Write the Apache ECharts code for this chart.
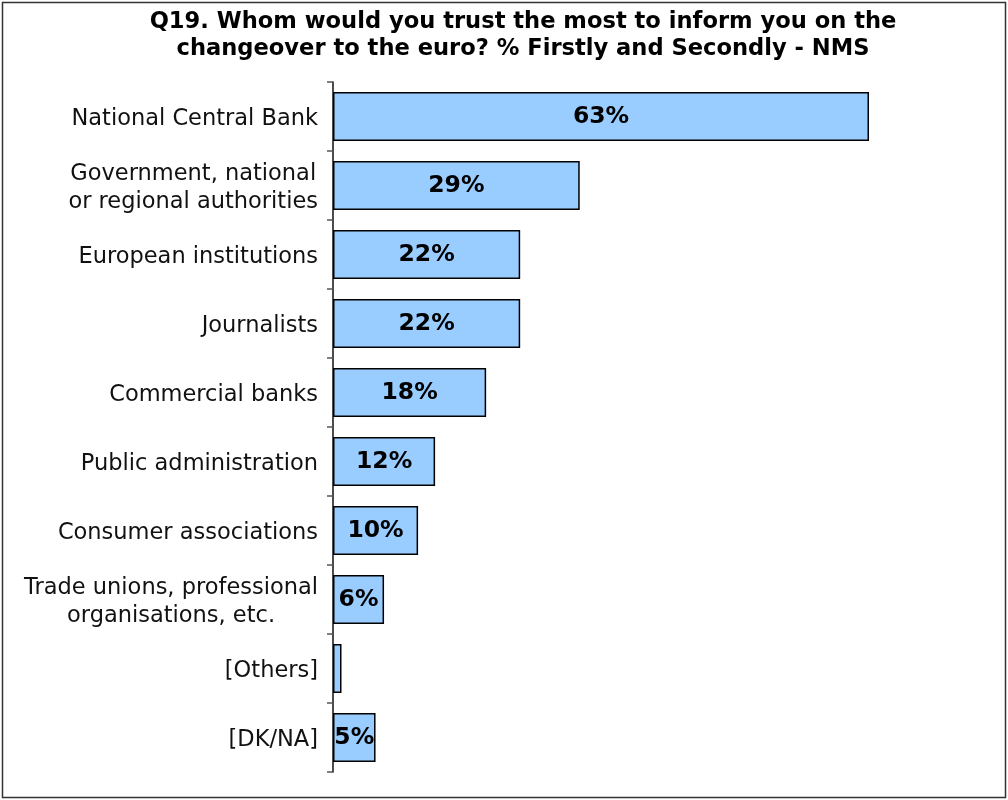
<!DOCTYPE html>
<html>
<head>
<meta charset="utf-8">
<style>
  html, body { margin: 0; padding: 0; background: #ffffff; }
  #chart { width: 1008px; height: 800px; }
</style>
<script src="https://cdn.jsdelivr.net/npm/echarts@6/dist/echarts.min.js"></script>
</head>
<body>
<div id="chart"></div>
<script>
// Survey answers, top to bottom
var categories = [
  'National Central Bank',
  'Government, national\nor regional authorities',
  'European institutions',
  'Journalists',
  'Commercial banks',
  'Public administration',
  'Consumer associations',
  'Trade unions, professional\norganisations, etc.',
  '[Others]',
  '[DK/NA]'
];
// Share of respondents, percent
var values = [63, 29, 22, 22, 18, 12, 10, 6, 1, 5];
// Bars whose value is printed on them
var showLabel = [true, true, true, true, true, true, true, true, false, true];

var titleText = 'Q19. Whom would you trust the most to inform you on the\nchangeover to the euro? % Firstly and Secondly - NMS';

var FONT = '"DejaVu Sans", Verdana, sans-serif';

var chart = echarts.init(document.getElementById('chart'), null, { renderer: 'canvas' });

var seriesData = values.map(function (v, i) {
  return {
    value: v,
    label: { show: showLabel[i] }
  };
});

chart.setOption({
  animation: false,
  backgroundColor: '#ffffff',
  title: {
    text: titleText,
    left: 518,
    top: 4,
    textAlign: 'center',
    textStyle: {
      fontFamily: FONT,
      fontWeight: 'bold',
      fontSize: 22.6,
      lineHeight: 27,
      color: '#000000'
    }
  },
  graphic: [{
    type: 'rect',
    shape: { x: 2.5, y: 2.5, width: 1003, height: 795 },
    style: { fill: 'none', stroke: '#333333', lineWidth: 1.5 },
    silent: true
  }],
  grid: {
    left: 333,
    right: 139,
    top: 82,
    bottom: 28,
    containLabel: false
  },
  xAxis: {
    type: 'value',
    min: 0,
    max: 63,
    show: false
  },
  yAxis: {
    type: 'category',
    data: categories,
    inverse: true,
    axisLine: { show: true, lineStyle: { color: '#111111', width: 1.5 } },
    axisTick: { show: true, length: 6, lineStyle: { color: '#555555', width: 1.5 } },
    axisLabel: {
      margin: 15,
      padding: [6, 0, 0, 0],
      fontFamily: FONT,
      fontSize: 22.5,
      color: '#111111',
      formatter: function (val) {
        // multi-line labels keep each line centred within the block
        return val.split('\n').map(function (line) {
          return '{c|' + line + '}';
        }).join('\n');
      },
      rich: {
        c: {
          fontFamily: FONT,
          fontSize: 22.5,
          color: '#111111',
          align: 'center',
          lineHeight: 28
        }
      }
    },
    splitLine: { show: false }
  },
  series: [{
    type: 'bar',
    data: seriesData,
    barWidth: 49,
    itemStyle: {
      color: '#99ccff',
      borderColor: '#000000',
      borderWidth: 1.5
    },
    label: {
      show: true,
      position: 'inside',
      formatter: '{c}%',
      fontFamily: FONT,
      fontWeight: 'bold',
      fontSize: 23.5,
      color: '#000000'
    }
  }]
});
</script>
</body>
</html>
